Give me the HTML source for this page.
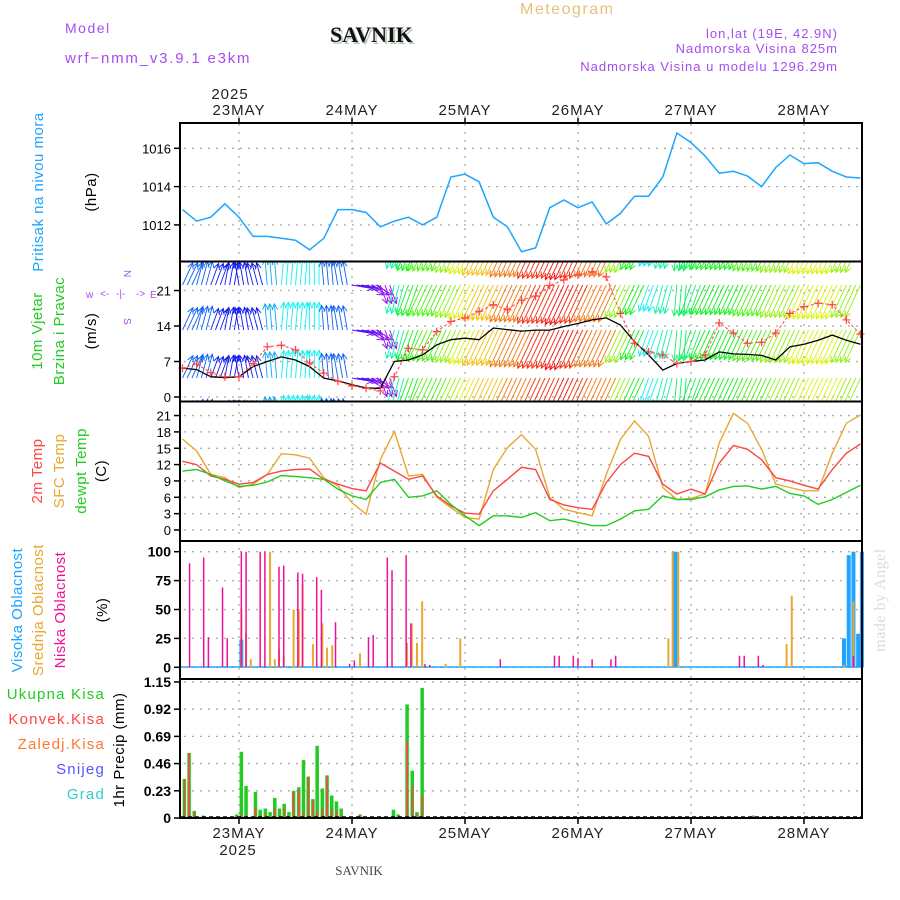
<!DOCTYPE html>
<html><head><meta charset="utf-8"><style>
body{margin:0;background:#fff;}
svg{display:block;font-family:"Liberation Sans",sans-serif;}
.tk{font-size:13px;fill:#000;text-anchor:end;}
.tkb{font-size:14px;font-weight:bold;fill:#000;text-anchor:end;}
.grid{stroke:#aaa;stroke-width:1.3;stroke-dasharray:2,6;fill:none;}
</style></head><body>
<svg id="chart" width="900" height="900" viewBox="0 0 900 900">
<defs>
<clipPath id="cp1"><rect x="180" y="123" width="682" height="138"/></clipPath>
<clipPath id="cp2"><rect x="180" y="262" width="682" height="139"/></clipPath>
<clipPath id="cp3"><rect x="180" y="402" width="682" height="139"/></clipPath>
</defs>
<text x="65" y="33" font-size="14" fill="#a64cf0" letter-spacing="1.5">Model</text>
<text x="65" y="63" font-size="15" fill="#a64cf0" letter-spacing="1.8">wrf−nmm_v3.9.1 e3km</text>
<text x="332" y="44" font-size="22" font-weight="bold" font-family="Liberation Serif,serif" fill="#b8c8b8">SAVNIK</text>
<text x="330" y="42" font-size="22" font-weight="bold" font-family="Liberation Serif,serif" fill="#111">SAVNIK</text>
<text x="520" y="14" font-size="16" fill="#e8c07a" letter-spacing="1.5">Meteogram</text>
<text x="838" y="38" font-size="13" fill="#a64cf0" letter-spacing="1" text-anchor="end">lon,lat (19E, 42.9N)</text>
<text x="838" y="53" font-size="13" fill="#a64cf0" letter-spacing="1" text-anchor="end">Nadmorska Visina 825m</text>
<text x="838" y="71" font-size="13" fill="#a64cf0" letter-spacing="1" text-anchor="end">Nadmorska Visina u modelu 1296.29m</text>
<text x="230" y="99" font-size="15" fill="#222" text-anchor="middle" letter-spacing="1">2025</text>
<text x="238" y="855" font-size="15" fill="#222" text-anchor="middle" letter-spacing="1">2025</text>
<text x="359" y="875" font-size="13" fill="#444" font-family="Liberation Serif,serif" text-anchor="middle">SAVNIK</text>

<g font-size="15" letter-spacing="0.5">
<text transform="translate(43,192) rotate(-90)" text-anchor="middle" fill="#1fa5ff">Pritisak na nivou mora</text>
<text transform="translate(96,192) rotate(-90)" text-anchor="middle" fill="#000">(hPa)</text>
<text transform="translate(42,331) rotate(-90)" text-anchor="middle" fill="#22cc22">10m Vjetar</text>
<text transform="translate(64,331) rotate(-90)" text-anchor="middle" fill="#22cc22">Brzina i Pravac</text>
<text transform="translate(96,331) rotate(-90)" text-anchor="middle" fill="#000">(m/s)</text>
<text transform="translate(42,471) rotate(-90)" text-anchor="middle" fill="#ff4444">2m Temp</text>
<text transform="translate(64,471) rotate(-90)" text-anchor="middle" fill="#e8a830">SFC Temp</text>
<text transform="translate(86,471) rotate(-90)" text-anchor="middle" fill="#22cc22">dewpt Temp</text>
<text transform="translate(106,471) rotate(-90)" text-anchor="middle" fill="#000">(C)</text>
<text transform="translate(22,610) rotate(-90)" text-anchor="middle" fill="#1fa5ff">Visoka Oblacnost</text>
<text transform="translate(43,610) rotate(-90)" text-anchor="middle" fill="#e8a830">Srednja Oblacnost</text>
<text transform="translate(65,610) rotate(-90)" text-anchor="middle" fill="#ee1199">Niska Oblacnost</text>
<text transform="translate(107,610) rotate(-90)" text-anchor="middle" fill="#000">(%)</text>
<text transform="translate(124,750) rotate(-90)" text-anchor="middle" fill="#000">1hr Precip (mm)</text>
<text x="105" y="699" text-anchor="end" fill="#22cc22" letter-spacing="1.2">Ukupna  Kisa</text>
<text x="105" y="724" text-anchor="end" fill="#ff4444" letter-spacing="1.2">Konvek.Kisa</text>
<text x="105" y="749" text-anchor="end" fill="#ff7733" letter-spacing="1.2">Zaledj.Kisa</text>
<text x="105" y="774" text-anchor="end" fill="#5555ff" letter-spacing="1.2">Snijeg</text>
<text x="105" y="799" text-anchor="end" fill="#33cccc" letter-spacing="1.2">Grad</text>
<text transform="translate(885,600) rotate(-90)" text-anchor="middle" fill="#d8dcd8" font-family="Liberation Serif,serif" font-size="16">made by Angel</text>
</g>
<g fill="#a64cf0" font-size="10">
<text x="86" y="298">w</text><text x="100" y="297">&lt;-</text><text x="116" y="297">-|-</text><text x="136" y="297">-&gt;</text><text x="150" y="298">E</text>
<text transform="translate(124,270) rotate(90)">N</text>
<text transform="translate(124,318) rotate(90)">S</text>
</g>
<g id="grid"></g>
<g id="marks"></g>
<g id="frame" fill="none" stroke="#000" stroke-width="2">
<rect x="180" y="123" width="682" height="695"/>
<line x1="180" y1="261.5" x2="862" y2="261.5"/>
<line x1="180" y1="401.5" x2="862" y2="401.5"/>
<line x1="180" y1="541" x2="862" y2="541"/>
<line x1="180" y1="679" x2="862" y2="679"/>
</g>
<g id="axes"></g>
</svg>
<script>
// ---- data ----
const dayLabels = ["23MAY","24MAY","25MAY","26MAY","27MAY","28MAY"];
const dayHours = [0,24,48,72,96,120];
const hours3 = [-12,-9,-6,-3,0,3,6,9,12,15,18,21,24,27,30,33,36,39,42,45,48,51,54,57,60,63,66,69,72,75,78,81,84,87,90,93,96,99,102,105,108,111,114,117,120,123,126,129,132];
const pressure = [1012.8,1012.2,1012.4,1013.1,1012.4,1011.4,1011.4,1011.3,1011.2,1010.7,1011.3,1012.8,1012.8,1012.65,1011.9,1012.2,1012.4,1012.0,1012.4,1014.5,1014.65,1014.25,1012.4,1011.9,1010.6,1010.8,1012.9,1013.3,1012.9,1013.2,1012.05,1012.6,1013.5,1013.5,1014.5,1016.8,1016.3,1015.6,1014.7,1014.8,1014.55,1014.0,1015.0,1015.65,1015.2,1015.25,1014.8,1014.5,1014.45];
const windSpeed = [5.7,5.4,4.0,3.8,4.0,6.0,7.0,7.9,7.3,6.0,3.7,3.2,2.4,1.8,1.7,7.0,7.3,8.3,10.3,11.3,11.6,11.3,13.6,13.3,13.0,13.2,13.2,13.9,14.5,15.2,15.6,14.2,10.9,8.3,5.3,6.6,7.0,7.3,8.9,8.5,8.4,8.2,7.3,9.9,10.4,11.2,12.2,11.2,10.4];
const windGust = [5.7,6.5,4.8,4.0,4.0,6.6,9.9,10.2,9.3,6.7,4.7,3.1,2.2,1.7,1.2,4.0,9.6,9.3,12.9,14.9,15.6,16.9,18.2,17.2,19.1,19.9,22.0,23.1,24.1,24.7,23.7,16.5,10.6,8.9,8.3,6.6,7.0,8.3,14.6,12.6,10.6,10.8,12.6,16.5,17.8,18.5,18.2,15.2,12.4];
const arrowDir = [25,15,20,10,-10,-15,-5,5,5,0,-5,-10,100,120,160,195,200,205,205,205,205,205,205,205,205,205,205,205,205,205,205,205,205,200,195,185,200,205,205,205,205,205,205,205,205,205,205,205,205];
const arrowSpd = [6,6,5,5,5,5,7,8,8,8,6,6,4,3,3,9,11,12,12,13,14,15,15,16,16,17,17,18,17,16,16,13,11,8,9,10,10,11,11,11,12,12,13,13,14,14,14,13,13];
const temp2m = [12.6,12.0,9.9,9.3,8.4,8.7,10.2,10.8,11.1,11.2,9.3,8.4,7.6,7.2,12.3,10.8,9.3,9.9,6.25,4.4,3.1,2.9,7.2,9.3,11.5,11.1,5.6,4.6,4.1,3.8,8.7,12.0,14.1,13.5,8.4,6.6,7.5,6.6,12.3,15.5,14.8,12.9,9.6,9.0,8.2,7.5,11.1,14.1,15.8];
const tempSfc = [16.7,14.5,10.2,9.6,7.8,8.4,10.2,14.0,13.8,13.2,9.6,8.1,5.0,2.9,12.9,18.1,9.9,10.2,6.0,4.1,2.3,2.0,11.1,15.1,17.5,14.8,6.0,3.8,3.2,2.6,10.2,16.6,20.0,17.2,7.8,5.6,5.8,6.6,16.0,21.4,19.6,14.8,8.4,7.8,7.2,7.2,14.1,19.6,21.1];
const tempDew = [10.8,11.1,10.2,9.0,8.0,8.2,8.8,10.0,9.8,9.6,9.3,7.5,6.25,5.6,8.7,9.3,6.0,6.25,7.2,4.7,2.6,0.8,2.6,2.6,2.3,3.2,1.7,2.0,1.4,0.8,0.8,2.0,3.5,3.8,6.25,5.6,5.6,6.1,7.35,8.0,8.1,7.5,8.0,6.7,6.25,4.7,5.6,6.9,8.2];
const lowCloudHours = [-10.5,-7.5,-6.5,-3.5,-2.5,0.5,1.5,4.5,5.5,8.5,9.5,12.5,13.5,16.5,17.5,20.5,23.5,24.5,27.5,28.5,31.5,32.5,35.5,36.5,39.5,40.5,55.5,67,68,71,72,75,79,80,106.3,107.3,110.3,111.3,130.5];
const lowCloud = [90,95,26,69,25,100,100,100,100,87,88,82,81,78,67,39,3,6,26,28,95,84,97,38,3,2,7,10,10,10,8,7,7,10,10,10,10,2,10];
const midCloudHours = [-11.6,0.5,1.5,2.5,6.6,7.6,8.5,9.5,11.6,12.7,13.5,15.7,17.7,18.7,19.8,25.7,35.7,36.7,37.8,38.9,43.9,47,91.2,92.1,93.3,116.3,117.4,128.5,130.5];
const midCloud = [1,50,29,7,100,7,16,10,50,50,72,20,38,17,19,12,21,38,21,57,3,25,25,100,100,20,62,2,57];
const highCloudHours = [0.5,92.7,128.5,129.5,130.5,131.5,132.3];
const highCloud = [24,100,25,97,100,29,100];
const precipHours = [-11.6,-10.6,-9.5,-7.6,-5.5,-0.5,0.5,1.5,3.5,4.5,5.6,6.6,7.6,8.6,9.6,10.6,11.6,12.7,13.7,14.7,15.7,16.6,17.7,18.7,19.7,20.7,21.7,25.7,32.8,33.8,35.7,36.8,37.8,38.9,109.2];
const precipTotal = [0.33,0.55,0.06,0.02,0.01,0.03,0.56,0.27,0.22,0.07,0.08,0.05,0.17,0.08,0.12,0.05,0.23,0.26,0.49,0.35,0.16,0.61,0.25,0.36,0.19,0.14,0.08,0.03,0.07,0.03,0.96,0.40,0.05,1.10,0.02];
const precipConv = [0.33,0.55,0.05,0.01,0.0,0.01,0.03,0.02,0.09,0.02,0.03,0.01,0.08,0.02,0.08,0.01,0.22,0.24,0.05,0.35,0.15,0.05,0.08,0.36,0.08,0.06,0.02,0.03,0.01,0.0,0.65,0.27,0.03,0.19,0.02];
const pTicks = [1012,1014,1016];
const wTicks = [0,7,14,21];
const tTicks = [0,3,6,9,12,15,18,21];
const cTicks = [0,25,50,75,100];
const rTicks = ["0","0.23","0.46","0.69","0.92","1.15"];

// ---- axes ----
const X = t => 239 + t*113/24;
const yP = v => 148.3 + (1016 - v)*19.15;
const yW = v => 397 - v*5.07;
const yT = v => 530 - v*5.45;
const yC = v => 667.3 - v*1.156;
const yR = v => 818 - v*118.3;

const NS = "http://www.w3.org/2000/svg";
function mk(tag, attrs, parent){ const e=document.createElementNS(NS,tag); for(const k in attrs) e.setAttribute(k,attrs[k]); parent.appendChild(e); return e; }
const grid = document.getElementById('grid');
const marks = document.getElementById('marks');
const axes = document.getElementById('axes');

dayHours.forEach((h,i)=>{
  const x = X(h);
  const g = mk('line',{x1:x,y1:116,x2:x,y2:824,class:'grid'},grid);
  
  
  const a = mk('text',{x:x,y:115,'font-size':15,fill:'#222','text-anchor':'middle','letter-spacing':1},axes);
  a.textContent = dayLabels[i];
  
  
  const b = mk('text',{x:x,y:838,'font-size':15,fill:'#222','text-anchor':'middle','letter-spacing':1},axes);
  b.textContent = dayLabels[i];
  
  
  mk('line',{x1:x,y1:118,x2:x,y2:123,stroke:'#000','stroke-width':1.5},axes);
  mk('line',{x1:x,y1:818,x2:x,y2:824,stroke:'#000','stroke-width':1.5},axes);
});
function hTicks(vals, yf, cls, name){
  vals.forEach(v=>{
    const y = yf(parseFloat(v));
    mk('line',{x1:184,y1:y,x2:862,y2:y,class:'grid'},grid);
    mk('line',{x1:174,y1:y,x2:180,y2:y,stroke:'#000','stroke-width':1.5},axes);
    const t = mk('text',{x:171,y:y+5,class:cls},axes);
    t.textContent = v;
    
    
  });
}
hTicks(pTicks,yP,'tk','pressure-tick');
hTicks(wTicks,yW,'tk','wind-tick');
hTicks(tTicks,yT,'tk','temp-tick');
hTicks(cTicks,yC,'tkb','cloud-tick');
hTicks(rTicks,yR,'tkb','precip-tick');

function line(vals, yf, color, clip, name, w){
  const d = vals.map((v,i)=>(i?'L':'M')+X(hours3[i]).toFixed(1)+','+yf(v).toFixed(1)).join('');
  const p = mk('path',{d:d,fill:'none',stroke:color,'stroke-width':w||1.4,'clip-path':'url(#'+clip+')'},marks);
  
  
  return p;
}
line(pressure,yP,'#1fa5ff','cp1','pressure-line',1.5);

const rows = [240,285,330,378,423];
function spdColor(s){ const h = Math.max(0, 275 - (s-3)*19); return 'hsl('+h+',90%,50%)'; }
const wg = mk('g',{'clip-path':'url(#cp2)'},marks);


hours3.forEach((h,i)=>{
  const L = 15 + arrowSpd[i]*1.6;
  const a = arrowDir[i]*Math.PI/180;
  const dx = Math.sin(a)*L, dy = -Math.cos(a)*L;
  const col = spdColor(arrowSpd[i]);
  for(let k=0;k<3;k++){
    const x0 = X(h+k);
    if (x0>863) continue;
    rows.forEach(y0=>{
      const x1=x0+dx, y1=y0+dy;
      const ux=dx/L, uy=dy/L;
      const hx1 = x1 - ux*6 - uy*3, hy1 = y1 - uy*6 + ux*3;
      const hx2 = x1 - ux*6 + uy*3, hy2 = y1 - uy*6 - ux*3;
      const p = mk('path',{d:`M${x0},${y0}L${x1},${y1}M${hx1},${hy1}L${x1},${y1}L${hx2},${hy2}`,stroke:col,'stroke-width':0.9,fill:'none'},wg);
      
      
    });
  }
});
line(windSpeed,yW,'#000','cp2','wind-speed-line',1.3);
const gl = line(windGust,yW,'#ff5555','cp2','wind-gust-line',1.1);
gl.setAttribute('stroke-dasharray','3,2');
hours3.forEach((h,i)=>{
  const x=X(h), y=yW(windGust[i]);
  if (y<262) return;
  const m = mk('path',{d:`M${x-4},${y}h8M${x},${y-4}v8`,stroke:'#ff4444','stroke-width':1.2},marks);
  
  
});

line(tempSfc,yT,'#e8a830','cp3','sfc-temp-line',1.4);
line(temp2m,yT,'#ff4444','cp3','temp-2m-line',1.4);
line(tempDew,yT,'#22cc22','cp3','dewpoint-line',1.4);

function bars(hrs, vals, yf, base, color, w, name){
  hrs.forEach((h,i)=>{
    const x = X(h), y = yf(vals[i]);
    const r = mk('rect',{x:x-w/2,y:y,width:w,height:Math.max(0,base-y),fill:color},marks);
    
    
  });
}
mk('line',{x1:181,y1:667,x2:861,y2:667,stroke:'#1fa5ff','stroke-width':1.5},marks);
bars(highCloudHours,highCloud,yC,667.3,'#1fa5ff',4,'high-cloud-bar');
bars(midCloudHours,midCloud,yC,667.3,'#e8a830',2,'mid-cloud-bar');
bars(lowCloudHours,lowCloud,yC,667.3,'#ee1199',1.5,'low-cloud-bar');

bars(precipHours,precipTotal,yR,818,'#22cc22',3.5,'total-precip-bar');
bars(precipHours,precipConv,yR,818,'#ff4444',1.6,'convective-precip-bar');
mk('line',{x1:181,y1:817,x2:861,y2:817,stroke:'#000','stroke-width':1.5,'stroke-dasharray':'4,3'},marks);
</script>
</body></html>
